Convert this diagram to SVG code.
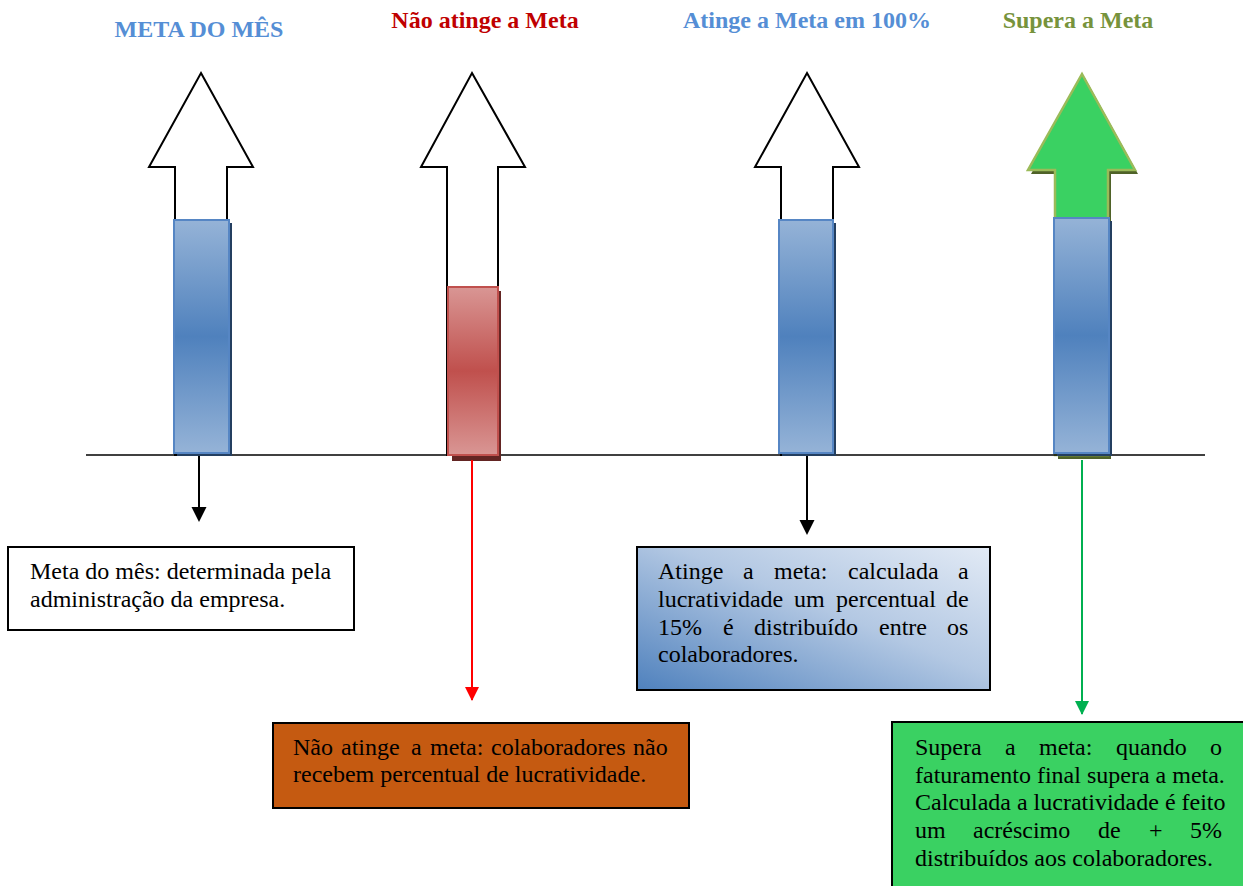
<svg xmlns="http://www.w3.org/2000/svg" width="1243" height="886" viewBox="0 0 1243 886">
<defs>
<linearGradient id="gBlue" x1="0" y1="0" x2="0" y2="1">
<stop offset="0" stop-color="#95B3D7"/><stop offset="0.5" stop-color="#4F81BD"/><stop offset="1" stop-color="#95B3D7"/>
</linearGradient>
<linearGradient id="gRed" x1="0" y1="0" x2="0" y2="1">
<stop offset="0" stop-color="#D99694"/><stop offset="0.5" stop-color="#C0504D"/><stop offset="1" stop-color="#D99694"/>
</linearGradient>
<linearGradient id="gBox" x1="0" y1="1" x2="1" y2="0">
<stop offset="0" stop-color="#4F81BD"/><stop offset="0.55" stop-color="#B3C8E3"/><stop offset="1" stop-color="#E2EAF5"/>
</linearGradient>
<marker id="mBlack" markerUnits="userSpaceOnUse" markerWidth="16" markerHeight="16" refX="13" refY="7.5" orient="auto"><path d="M0,0 L15,7.5 L0,15 Z" fill="#000"/></marker>
<marker id="mRed" markerUnits="userSpaceOnUse" markerWidth="16" markerHeight="16" refX="13" refY="7" orient="auto"><path d="M0,0 L14,7 L0,14 Z" fill="#FF0000"/></marker>
<marker id="mGreen" markerUnits="userSpaceOnUse" markerWidth="16" markerHeight="16" refX="13" refY="7" orient="auto"><path d="M0,0 L14,7 L0,14 Z" fill="#00B050"/></marker>
</defs>
<style>
.title{font-family:"Liberation Serif","Times New Roman",serif;font-weight:bold;font-size:24px;text-anchor:middle}
.body{font-family:"Liberation Serif","Times New Roman",serif;font-size:24px;fill:#000}
.warrow{fill:#fff;stroke:#000;stroke-width:2;stroke-linejoin:miter}
.bbar{fill:url(#gBlue);stroke:#5686C4;stroke-width:2}
.bshadow{fill:#243F60}
.box{stroke:#000;stroke-width:2}
.conn{fill:none;stroke-width:2}
</style>
<rect width="1243" height="886" fill="#fff"/>

<g id="titles">
<text class="title" x="199" y="37" fill="#558ED5">META DO MÊS</text>
<text class="title" x="485" y="28" fill="#C00000">Não atinge a Meta</text>
<text class="title" x="807" y="28" fill="#558ED5">Atinge a Meta em 100%</text>
<text class="title" x="1078" y="28" fill="#77933C">Supera a Meta</text>
</g>

<g id="arrow-meta">
<path class="warrow" d="M201,73 L253,167 L227,167 L227,455 L175,455 L175,167 L149,167 Z"/>
</g>
<g id="arrow-nao">
<path class="warrow" d="M472,73 L525,167 L498,167 L498,455 L447,455 L447,167 L421,167 Z"/>
</g>
<g id="arrow-atinge">
<path class="warrow" d="M807,73 L859,167 L833,167 L833,455 L781,455 L781,167 L755,167 Z"/>
</g>
<g id="arrow-supera">
<path d="M1085,78 L1138,174 L1111,174 L1111,459 L1058,459 L1058,174 L1031,174 Z" fill="#4F6228"/>
<path d="M1082,74 L1135,170 L1108,170 L1108,455 L1055,455 L1055,170 L1028,170 Z" fill="#3AD162" stroke="#9BBB59" stroke-width="2.5"/>
</g>

<line x1="86" y1="455" x2="1205" y2="455" stroke="#000" stroke-width="1.5"/>

<g id="bar-meta">
<rect class="bshadow" x="177" y="223" width="55" height="233"/>
<rect class="bbar" x="174" y="220" width="55" height="233"/>
</g>
<g id="bar-nao">
<rect x="452" y="291" width="49" height="170" fill="#632523"/>
<rect x="448" y="287" width="50" height="168" fill="url(#gRed)" stroke="#C0504D" stroke-width="2"/>
</g>
<g id="bar-atinge">
<rect class="bshadow" x="782" y="223" width="54" height="233"/>
<rect class="bbar" x="779" y="220" width="54" height="233"/>
</g>
<g id="bar-supera">
<rect class="bshadow" x="1057" y="221" width="55" height="235"/>
<rect class="bbar" x="1054" y="218" width="55" height="235"/>
</g>

<g id="connectors">
<line class="conn" stroke="#000" x1="199" y1="456" x2="199" y2="520" marker-end="url(#mBlack)"/>
<line class="conn" stroke="#FF0000" x1="472" y1="460" x2="472" y2="700" marker-end="url(#mRed)"/>
<line class="conn" stroke="#000" x1="807" y1="456" x2="807" y2="533" marker-end="url(#mBlack)"/>
<line class="conn" stroke="#00B050" x1="1082" y1="460" x2="1082" y2="714" marker-end="url(#mGreen)"/>
</g>

<g id="box-meta">
<rect class="box" x="8" y="547" width="346" height="83" fill="#fff"/>
<text class="body" x="30" y="579">Meta do mês: determinada pela</text>
<text class="body" x="30" y="607">administração da empresa.</text>
</g>

<g id="box-nao">
<rect class="box" x="273" y="723" width="416" height="85" fill="#C55A11"/>
<text class="body" y="755"><tspan x="293">Não</tspan><tspan x="341">atinge</tspan><tspan x="411">a</tspan><tspan x="430">meta:</tspan><tspan x="491">colaboradores</tspan><tspan x="633">não</tspan></text>
<text class="body" x="293" y="782">recebem percentual de lucratividade.</text>
</g>

<g id="box-atinge">
<rect class="box" x="637" y="547" width="353" height="143" fill="url(#gBox)"/>
<text class="body" y="579"><tspan x="658">Atinge</tspan><tspan x="743">a</tspan><tspan x="774">meta:</tspan><tspan x="848">calculada</tspan><tspan x="958">a</tspan></text>
<text class="body" y="607"><tspan x="658">lucratividade</tspan><tspan x="794">um</tspan><tspan x="836">percentual</tspan><tspan x="946">de</tspan></text>
<text class="body" y="635"><tspan x="658">15%</tspan><tspan x="723">é</tspan><tspan x="754">distribuído</tspan><tspan x="879">entre</tspan><tspan x="947">os</tspan></text>
<text class="body" x="658" y="662">colaboradores.</text>
</g>

<g id="box-supera">
<rect class="box" x="892" y="722" width="352" height="166" fill="#3AD162"/>
<text class="body" y="755"><tspan x="915">Supera</tspan><tspan x="1005">a</tspan><tspan x="1039">meta:</tspan><tspan x="1116">quando</tspan><tspan x="1210">o</tspan></text>
<text class="body" x="915" y="783">faturamento final supera a meta.</text>
<text class="body" x="915" y="810">Calculada a lucratividade é feito</text>
<text class="body" y="838"><tspan x="915">um</tspan><tspan x="973">acréscimo</tspan><tspan x="1098">de</tspan><tspan x="1149">+</tspan><tspan x="1190">5%</tspan></text>
<text class="body" x="915" y="866">distribuídos aos colaboradores.</text>
</g>
</svg>
